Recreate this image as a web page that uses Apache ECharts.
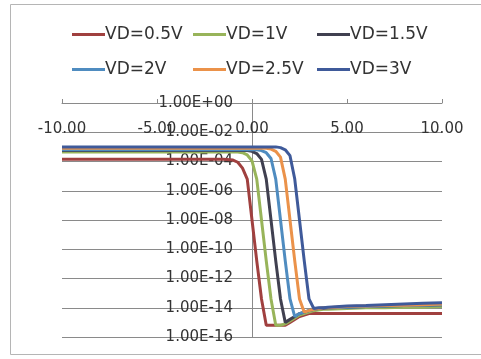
<!DOCTYPE html>
<html>
<head>
<meta charset="utf-8">
<script src="https://cdn.jsdelivr.net/npm/echarts@6/dist/echarts.min.js"></script>
<style>
html,body{margin:0;padding:0;background:#fff;}
#c{width:481px;height:359px;}
</style>
</head>
<body>
<div id="c"></div>
<script>
var seriesNames = ['VD=0.5V','VD=1V','VD=1.5V','VD=2V','VD=2.5V','VD=3V'];
var xTicks = [-10, -5, 0, 5, 10];
var xs = [-10,-8,-6,-4,-3,-2,-1.5,-1,-0.75,-0.5,-0.25,0,0.25,0.5,0.75,1,1.25,1.5,1.75,2,2.25,2.5,2.75,3,3.25,3.5,3.75,4,5,6,7,8,9,10];

var vd05 = [1.4e-4,1.4e-4,1.4e-4,1.4e-4,1.4e-4,1.4e-4,1.4e-4,1.26e-4,8.9e-5,3.5e-5,6.3e-6,1e-8,1.6e-11,4.0e-14,6.3e-16,6.3e-16,6.3e-16,6.3e-16,6.3e-16,1.0e-15,1.6e-15,2.5e-15,3.2e-15,4.0e-15,4.0e-15,4.0e-15,4.0e-15,4.0e-15,4.0e-15,4.0e-15,4.0e-15,4.0e-15,4.0e-15,4.0e-15];
var vd1 = [4.5e-4,4.5e-4,4.5e-4,4.5e-4,4.5e-4,4.5e-4,4.5e-4,4.5e-4,4.5e-4,4.0e-4,2.8e-4,1.1e-4,6.3e-6,1e-8,1.6e-11,4.0e-14,6.3e-16,6.3e-16,7.9e-16,1.26e-15,2.0e-15,3.2e-15,4.0e-15,5.0e-15,6.3e-15,7.1e-15,7.9e-15,7.9e-15,8.9e-15,1.0e-14,1.0e-14,1.1e-14,1.1e-14,1.2e-14];
var vd15 = [5.6e-4,5.6e-4,5.6e-4,5.6e-4,5.6e-4,5.6e-4,5.6e-4,5.6e-4,5.6e-4,5.6e-4,5.6e-4,5.0e-4,3.5e-4,1.4e-4,6.3e-6,1e-8,1.6e-11,4.0e-14,1.0e-15,1.6e-15,2.5e-15,4.0e-15,5.0e-15,6.3e-15,7.9e-15,8.9e-15,8.9e-15,1.0e-14,1.1e-14,1.2e-14,1.3e-14,1.4e-14,1.5e-14,1.6e-14];
var vd2 = [6.3e-4,6.3e-4,6.3e-4,6.3e-4,6.3e-4,6.3e-4,6.3e-4,6.3e-4,6.3e-4,6.3e-4,6.3e-4,6.3e-4,6.3e-4,5.6e-4,4.0e-4,1.6e-4,6.3e-6,1e-8,1.6e-11,4.0e-14,2.5e-15,4.0e-15,5.0e-15,6.3e-15,7.9e-15,8.9e-15,1.0e-14,1.0e-14,1.1e-14,1.2e-14,1.3e-14,1.4e-14,1.5e-14,1.6e-14];
var vd25 = [7.9e-4,7.9e-4,7.9e-4,7.9e-4,7.9e-4,7.9e-4,7.9e-4,7.9e-4,7.9e-4,7.9e-4,7.9e-4,7.9e-4,7.9e-4,7.9e-4,7.9e-4,7.1e-4,5.0e-4,2.0e-4,6.3e-6,1e-8,1.6e-11,4.0e-14,5.0e-15,6.3e-15,7.9e-15,8.9e-15,1.0e-14,1.0e-14,1.2e-14,1.3e-14,1.4e-14,1.5e-14,1.6e-14,1.8e-14];
var vd3 = [1.0e-3,1.0e-3,1.0e-3,1.0e-3,1.0e-3,1.0e-3,1.0e-3,1.0e-3,1.0e-3,1.0e-3,1.0e-3,1.0e-3,1.0e-3,1.0e-3,1.0e-3,1.0e-3,1.0e-3,8.9e-4,6.3e-4,2.5e-4,6.3e-6,1e-8,1.6e-11,4.0e-14,8.9e-15,1.0e-14,1.0e-14,1.1e-14,1.3e-14,1.4e-14,1.6e-14,1.8e-14,2.0e-14,2.2e-14];

var allValues = [vd05, vd1, vd15, vd2, vd25, vd3];
var colors = ['#A0403F','#98B45A','#404050','#4F8CC0','#EB924A','#3F5A9A'];
var legendPos = [[72,26],[193,26],[317,26],[72,61],[193,61],[317,61]];

var chart = echarts.init(document.getElementById('c'));
var font = 'DejaVu Sans';
var legends = seriesNames.map(function(n, i){
  return {
    data: [n], left: legendPos[i][0], top: legendPos[i][1],
    icon: 'rect', itemWidth: 33, itemHeight: 3, itemGap: 0,
    selectedMode: false, padding: 0,
    textStyle: {fontFamily: font, fontSize: 17, color: '#333333', padding: [0,0,0,-5]}
  };
});
var series = seriesNames.map(function(n, i){
  return {
    name: n, type: 'line', showSymbol: false, symbol: 'none',
    color: colors[i],
    lineStyle: {width: 3, color: colors[i]},
    data: xs.map(function(x, j){ return [x, allValues[i][j]]; }),
    animation: false
  };
});
chart.setOption({
  animation: false,
  color: colors,
  legend: legends,
  graphic: [{
    type: 'rect', shape: {x: 10.5, y: 4.5, width: 480, height: 350},
    style: {fill: 'none', stroke: '#b5b5b5', lineWidth: 1}, z: -1
  }],
  grid: {left: 62, right: 39, top: 103, bottom: 22, containLabel: false, outerBoundsMode: 'none'},
  xAxis: {
    type: 'value', min: -10, max: 10, interval: 5, position: 'top',
    axisLine: {onZero: false, lineStyle: {color: '#8a8a8a', width: 1}},
    axisTick: {show: true, inside: false, length: 4, lineStyle: {color: '#8a8a8a'}},
    splitLine: {show: false},
    axisLabel: {
      inside: true, margin: 19, fontFamily: font, fontSize: 15, color: '#333333',
      formatter: function(v){ return v.toFixed(2); }
    }
  },
  yAxis: {
    type: 'log', logBase: 10, min: 1e-16, max: 1, interval: 2,
    position: 'left', offset: -190,
    axisLine: {show: true, onZero: false, lineStyle: {color: '#8a8a8a', width: 1}},
    axisTick: {show: false},
    minorTick: {show: false},
    splitLine: {show: true, lineStyle: {color: '#8a8a8a', width: 1}},
    axisLabel: {
      margin: 19, fontFamily: font, fontSize: 15, color: '#333333',
      formatter: function(v){
        var e = Math.round(Math.log10(v));
        var a = Math.abs(e);
        return '1.00E' + (e < 0 ? '-' : '+') + (a < 10 ? '0' : '') + a;
      }
    }
  },
  series: series
});
</script>
</body>
</html>
